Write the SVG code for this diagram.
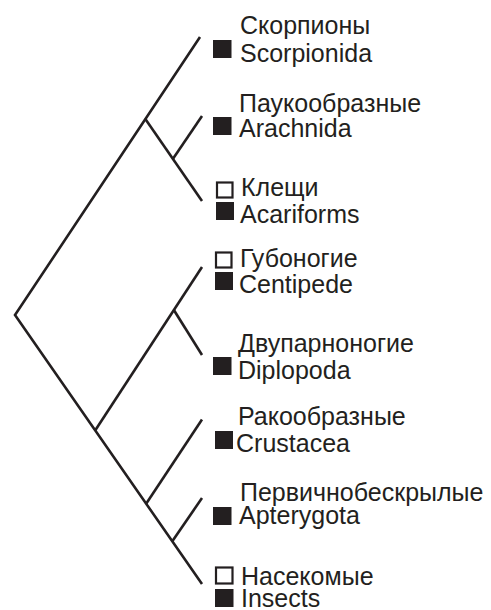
<svg xmlns="http://www.w3.org/2000/svg" width="491" height="610" viewBox="0 0 491 610">
<style>
.e{stroke:#231f20;stroke-width:2.6;fill:none;stroke-linecap:butt}
.f{fill:#231f20}
.o{fill:#fff;stroke:#231f20;stroke-width:2.2}
text{font-family:"Liberation Sans",Arial,sans-serif;font-size:25px;fill:#231f20}
</style>
<rect width="491" height="610" fill="#fff"/>
<g id="connectors">
<path class="e" d="M200,37 L15,315 L202,584"/>
<path class="e" d="M145,118.5 L202,201"/>
<path class="e" d="M173,158.8 L202,116"/>
<path class="e" d="M95.3,430.3 L202,267"/>
<path class="e" d="M174,310.3 L202,355"/>
<path class="e" d="M146.3,503.5 L202,419.5"/>
<path class="e" d="M172.5,541 L202,498"/>
</g>
<g id="scorpionida">
<rect class="f" x="213" y="40" width="18.5" height="18"/>
<text x="240" y="34">Скорпионы</text>
<text x="240" y="61.5">Scorpionida</text>
</g>
<g id="arachnida">
<rect class="f" x="213" y="117" width="18.5" height="18"/>
<text x="239" y="111.5">Паукообразные</text>
<text x="239" y="137">Arachnida</text>
</g>
<g id="acariforms">
<rect class="o" x="217" y="182.5" width="15.5" height="15"/>
<rect class="f" x="216" y="202" width="18" height="18"/>
<text x="241" y="196">Клещи</text>
<text x="240" y="223">Acariforms</text>
</g>
<g id="centipede">
<rect class="o" x="216" y="252.5" width="15.5" height="15"/>
<rect class="f" x="215" y="272" width="18" height="18"/>
<text x="240" y="267">Губоногие</text>
<text x="239" y="293">Centipede</text>
</g>
<g id="diplopoda">
<rect class="f" x="213" y="357" width="18.5" height="18"/>
<text x="238" y="352">Двупарноногие</text>
<text x="238" y="379">Diplopoda</text>
</g>
<g id="crustacea">
<rect class="f" x="215" y="431" width="18" height="18"/>
<text x="238" y="425">Ракообразные</text>
<text x="236" y="451.5">Crustacea</text>
</g>
<g id="apterygota">
<rect class="f" x="213" y="507" width="18.5" height="18"/>
<text x="240" y="501">Первичнобескрылые</text>
<text x="239" y="524">Apterygota</text>
</g>
<g id="insects">
<rect class="o" x="216" y="567.5" width="16.5" height="16"/>
<rect class="f" x="215" y="589" width="18.5" height="18"/>
<text x="241" y="585">Насекомые</text>
<text x="241" y="607">Insects</text>
</g>
</svg>
